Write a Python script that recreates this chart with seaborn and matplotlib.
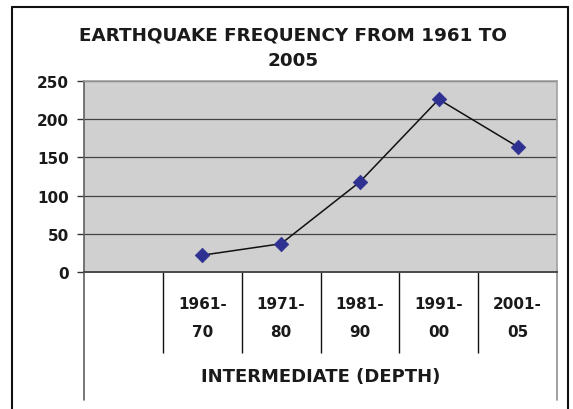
import matplotlib
matplotlib.use('Agg')
import matplotlib.pyplot as plt
from matplotlib.lines import Line2D
import numpy as np
import pandas as pd
import seaborn as sns

# data
periods = ['', '1961-70', '1971-80', '1981-90', '1991-00', '2001-05']
tick_labels = ['', '1961-\n70', '1971-\n80', '1981-\n90', '1991-\n00', '2001-\n05']
frequency = [np.nan, 22, 37, 118, 226, 164]
y_ticks = [0, 50, 100, 150, 200, 250]
group_label = 'INTERMEDIATE (DEPTH)'
title = 'EARTHQUAKE FREQUENCY FROM 1961 TO\n2005'

df = pd.DataFrame({'pos': np.arange(len(periods)), 'period': periods,
                   'frequency': frequency}).dropna()

sns.set_style('white')
plt.rcParams['font.family'] = ['DejaVu Sans']

W, H = 573, 410
fig = plt.figure(figsize=(W / 100, H / 100), dpi=100)
ax = fig.add_axes([84 / W, 1 - 273 / H, (557 - 84) / W, (273 - 82) / H])
ax.set_facecolor('#d0d0d0')

sns.lineplot(data=df, x='pos', y='frequency', color='#111111', lw=1.1,
             ax=ax, zorder=3)
sns.scatterplot(data=df, x='pos', y='frequency', marker='D', s=55,
                color='#2e3192', edgecolor='#2e3192', linewidth=0.5, ax=ax,
                zorder=4)

ax.set_xlim(-0.5, len(periods) - 0.5)
ax.set_ylim(0, 250)
ax.set_yticks(y_ticks)
ax.set_yticklabels([str(v) for v in y_ticks], fontsize=11, fontweight='bold')
ax.yaxis.grid(True, color='#444444', lw=0.9)
ax.set_axisbelow(True)
ax.tick_params(axis='y', length=5, width=1, color='#333333', pad=6,
               left=True, labelcolor='#1a1a1a')

# category labels, table style
ax.set_xticks(np.arange(len(periods)))
ax.set_xticklabels(tick_labels, fontsize=11, fontweight='bold',
                   linespacing=2.1)
ax.tick_params(axis='x', length=0, pad=17, labelcolor='#1a1a1a')
ax.set_xticks(np.arange(0.5, len(periods) - 1), minor=True)
ax.tick_params(axis='x', which='minor', length=58, width=1, color='#111111',
               bottom=True)
ax.set_xlabel(group_label, fontsize=13, fontweight='bold', labelpad=7,
              color='#1a1a1a')
ax.set_ylabel('')

for side in ['top', 'right']:
    ax.spines[side].set_color('#a0a0a0')
    ax.spines[side].set_linewidth(1.2)
ax.spines['left'].set_color('#606060')
ax.spines['left'].set_linewidth(1.2)
ax.spines['bottom'].set_color('#4a4a4a')
ax.spines['bottom'].set_linewidth(1.4)

# outer edges of the category table
for xv, col in [(-0.5, '#606060'), (len(periods) - 0.5, '#909090')]:
    ax.plot([xv, xv], [0, -0.67], color=col, lw=1.2,
            transform=ax.get_xaxis_transform(), clip_on=False)

fig.text(0.511, 1 - 48 / H, title, ha='center', va='center', fontsize=13.2,
         fontweight='bold', linespacing=1.5, color='#1a1a1a')

# chart border
for xs, ys in [([12 / W, 12 / W], [0, 1 - 8 / H]),
               ([12 / W, 568 / W], [1 - 8 / H, 1 - 8 / H]),
               ([568 / W, 568 / W], [0, 1 - 8 / H])]:
    fig.add_artist(Line2D(xs, ys, color='#111111', lw=1.5))

fig.savefig('out.png', dpi=100)
